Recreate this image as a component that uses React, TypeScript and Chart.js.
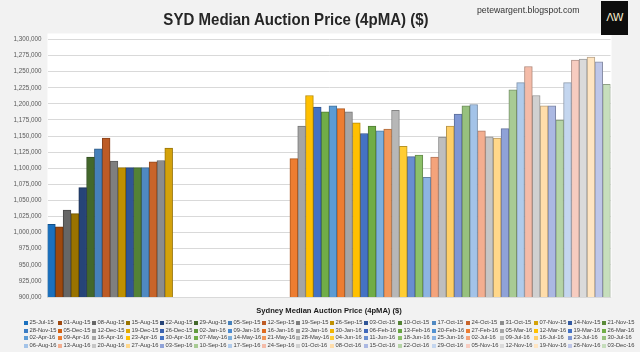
import { useEffect, useRef } from "react";
import { Chart, registerables } from "chart.js";

Chart.register(...registerables);

const CHART_TITLE = "SYD Median Auction Price (4pMA) ($)";
const SOURCE = "petewargent.blogspot.com";
const CATEGORY = "Sydney Median Auction Price (4pMA) ($)";

const WEEKS = [
  "25-Jul-15", "01-Aug-15", "08-Aug-15", "15-Aug-15", "22-Aug-15", "29-Aug-15",
  "05-Sep-15", "12-Sep-15", "19-Sep-15", "26-Sep-15", "03-Oct-15", "10-Oct-15",
  "17-Oct-15", "24-Oct-15", "31-Oct-15", "07-Nov-15", "14-Nov-15", "21-Nov-15",
  "28-Nov-15", "05-Dec-15", "12-Dec-15", "19-Dec-15", "26-Dec-15", "02-Jan-16",
  "09-Jan-16", "16-Jan-16", "23-Jan-16", "30-Jan-16", "06-Feb-16", "13-Feb-16",
  "20-Feb-16", "27-Feb-16", "05-Mar-16", "12-Mar-16", "19-Mar-16", "26-Mar-16",
  "02-Apr-16", "09-Apr-16", "16-Apr-16", "23-Apr-16", "30-Apr-16", "07-May-16",
  "14-May-16", "21-May-16", "28-May-16", "04-Jun-16", "11-Jun-16", "18-Jun-16",
  "25-Jun-16", "02-Jul-16", "09-Jul-16", "16-Jul-16", "23-Jul-16", "30-Jul-16",
  "06-Aug-16", "13-Aug-16", "20-Aug-16", "27-Aug-16", "03-Sep-16", "10-Sep-16",
  "17-Sep-16", "24-Sep-16", "01-Oct-16", "08-Oct-16", "15-Oct-16", "22-Oct-16",
  "29-Oct-16", "05-Nov-16", "12-Nov-16", "19-Nov-16", "26-Nov-16", "03-Dec-16",
];

const MEDIAN_PRICE: (number | null)[] = [
  1013000, 1009000, 1035000, 1029500, 1070000, 1117500,
  1130000, 1147000, 1111000, 1101000, 1101000, 1101000,
  1101000, 1110000, 1112000, 1131500, null, null,
  null, null, null, null, null, null,
  null, null, null, null, null, null,
  null, 1115000, 1165500, 1213000, 1195000, 1187500,
  1197000, 1192500, 1187500, 1170500, 1154000, 1165500,
  1158000, 1161000, 1190000, 1134000, 1118000, 1120500,
  1086000, 1117500, 1148500, 1165500, 1184000, 1197000,
  1199000, 1158000, 1149000, 1147000, 1161500, 1222000,
  1233000, 1258000, 1213000, 1197000, 1197000, 1175000,
  1233000, 1268000, 1269500, 1272500, 1265500, 1230500,
];

const Y_MIN = 900000;
const Y_MAX = 1300000;
const Y_STEP = 25000;

const COLORS = [
  "#1A70BE", "#9E480E", "#666666", "#997300", "#264478", "#43682B",
  "#4580BA", "#BD5B25", "#7F7F7F", "#BF9000", "#2F5597", "#548235",
  "#4F89C2", "#C8642A", "#8C8C8C", "#D4A20A", "#335AA1", "#5A8A39",
  "#3C7DC4", "#D26012", "#969696", "#E0A800", "#3A62B0", "#629A3E",
  "#4A8AD0", "#E06C20", "#9E9E9E", "#F0B400", "#4068BA", "#68A442",
  "#5292D2", "#ED7D31", "#A5A5A5", "#FFC000", "#4472C4", "#70AD47",
  "#5B9BD5", "#ED7D31", "#A5A5A5", "#FFC000", "#4472C4", "#70AD47",
  "#7CAFDD", "#F1975A", "#B7B7B7", "#FFCD33", "#698ED0", "#8CC168",
  "#8DB4E2", "#F4A37B", "#BEBEBE", "#FFCF66", "#7F97D4", "#97C17E",
  "#A3C3E8", "#F3AE90", "#C6C6C6", "#FFD78A", "#8FA2D8", "#A8CB94",
  "#B0CBEB", "#F4BBA8", "#D0D0D0", "#FFDDAA", "#ABB8E2", "#B5D4A6",
  "#C4D6EF", "#F7CCC0", "#DADADA", "#FFE5C2", "#BEC6E8", "#C6DEBC",
];

function darken(hex: string, f: number): string {
  const n = parseInt(hex.slice(1), 16);
  const r = Math.round(((n >> 16) & 255) * f);
  const g = Math.round(((n >> 8) & 255) * f);
  const b = Math.round((n & 255) * f);
  return `rgb(${r},${g},${b})`;
}

const FONT = '"Liberation Sans", Arial, sans-serif';

const plotBackground = {
  id: "plotBackground",
  beforeDraw(chart: any) {
    const { ctx, chartArea } = chart;
    ctx.save();
    ctx.fillStyle = "#FFFFFF";
    ctx.fillRect(chartArea.left, chartArea.top - 6, chartArea.right - chartArea.left + 1, chartArea.bottom - chartArea.top + 6);
    ctx.restore();
  },
};

export default function App() {
  const ref = useRef<HTMLCanvasElement>(null);

  useEffect(() => {
    const chart = new Chart(ref.current as HTMLCanvasElement, {
      type: "bar",
      data: {
        labels: [CATEGORY],
        datasets: WEEKS.map((w, i) => ({
          label: w,
          data: [MEDIAN_PRICE[i]],
          backgroundColor: COLORS[i],
          borderColor: darken(COLORS[i], 0.72),
          borderWidth: 1,
          barPercentage: 1,
          categoryPercentage: 1,
        })),
      },
      options: {
        animation: false,
        responsive: false,
        maintainAspectRatio: false,
        layout: { padding: { left: 0, right: 29.5, top: 39.5, bottom: 35 } },
        plugins: {
          legend: { display: false },
          title: { display: false },
          tooltip: { enabled: false },
        },
        scales: {
          x: {
            grid: { display: false, drawTicks: false },
            border: { display: true, color: "#D9D9D9" },
            ticks: {
              color: "#1A1A1A",
              padding: 9,
              font: { family: FONT, size: 7.6, weight: "bold" },
            },
            afterFit: (s: any) => {
              s.height = 20;
            },
          },
          y: {
            min: Y_MIN,
            max: Y_MAX,
            ticks: {
              stepSize: Y_STEP,
              color: "#595959",
              padding: 6,
              font: { family: FONT, size: 6.3 },
              callback: (v: any) => Number(v).toLocaleString("en-US"),
            },
            grid: { color: "#D9D9D9", drawTicks: false, lineWidth: 1 },
            border: { display: false },
            afterFit: (s: any) => {
              s.width = 47.5;
            },
          },
        },
      },
      plugins: [plotBackground],
    } as any);
    return () => chart.destroy();
  }, []);

  const rows: number[][] = [];
  for (let r = 0; r < 4; r++) rows.push(WEEKS.map((_, i) => i).slice(r * 18, r * 18 + 18));

  return (
    <div
      style={{
        position: "absolute",
        left: 0,
        top: 0,
        width: 640,
        height: 352,
        background: "#F2F2F2",
        overflow: "hidden",
        fontFamily: FONT,
      }}
    >
      <canvas ref={ref} width={640} height={352} style={{ position: "absolute", left: 0, top: 0 }} />
      <div
        style={{
          position: "absolute",
          left: 0,
          top: 10,
          width: 592,
          textAlign: "center",
          fontSize: 17,
          fontWeight: "bold",
          color: "#262626",
          lineHeight: "20px",
          transform: "scaleX(0.885)",
          transformOrigin: "296px 10px",
        }}
      >
        {CHART_TITLE}
      </div>
      <div
        style={{
          position: "absolute",
          left: 477,
          top: 4,
          fontSize: 9.5,
          color: "#333333",
          lineHeight: "12px",
          transform: "scaleX(0.92)",
          transformOrigin: "0px 6px",
        }}
      >
        {SOURCE}
      </div>
      <div
        style={{
          position: "absolute",
          left: 601,
          top: 1,
          width: 27,
          height: 34,
          background: "#0D0D0D",
          color: "#F2E8C9",
          fontFamily: '"DejaVu Sans", sans-serif',
          fontSize: 11,
          lineHeight: "34px",
          textAlign: "center",
          letterSpacing: -1,
        }}
      >
        ΛW
      </div>
      <div style={{ position: "absolute", left: 24, top: 319 }}>
        {rows.map((row, r) => (
          <div key={r} style={{ display: "flex", height: 7.7 }}>
            {row.map((i) => (
              <div
                key={i}
                style={{
                  width: 34,
                  display: "flex",
                  alignItems: "center",
                  fontSize: 5.8,
                  color: "#404040",
                  whiteSpace: "nowrap",
                  lineHeight: "7.7px",
                }}
              >
                <span
                  style={{
                    display: "inline-block",
                    width: 4,
                    height: 4,
                    background: COLORS[i],
                    marginRight: 1.5,
                    flex: "none",
                  }}
                />
                {WEEKS[i]}
              </div>
            ))}
          </div>
        ))}
      </div>
    </div>
  );
}
